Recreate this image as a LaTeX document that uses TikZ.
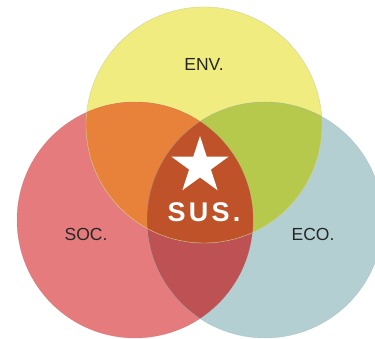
\documentclass[tikz,border=0pt]{standalone}
\usepackage{fontspec}
\setmainfont{Liberation Sans}
\usetikzlibrary{shapes.geometric}
\definecolor{cyel}{HTML}{F0EC80}
\definecolor{cred}{HTML}{E67B7E}
\definecolor{cteal}{HTML}{B4CFD2}
\definecolor{corange}{HTML}{E8823A}
\definecolor{cgreen}{HTML}{B6C94C}
\definecolor{credteal}{HTML}{BD5154}
\definecolor{ccenter}{HTML}{BF5229}
\tikzset{
  lbl/.style={font=\fontsize{17.5}{17.5}\selectfont, text=black!85},
  sus/.style={font=\fontsize{27}{27}\selectfont\bfseries\addfontfeature{LetterSpace=12}, text=white},
}
\begin{document}
\begin{tikzpicture}[x=1pt,y=-1pt]
\useasboundingbox (0,0) rectangle (375,339);
\def\R{118}
\coordinate (cy) at (204,125);
\coordinate (cr) at (135,220);
\coordinate (ct) at (265,220);
\begin{scope}
\clip (0,0) rectangle (375,339);
\fill[cyel] (cy) circle[radius=\R];
\fill[cred] (cr) circle[radius=\R];
\fill[cteal] (ct) circle[radius=\R];
\begin{scope}
  \clip (cy) circle[radius=\R];
  \fill[corange] (cr) circle[radius=\R];
  \fill[cgreen] (ct) circle[radius=\R];
\end{scope}
\begin{scope}
  \clip (cr) circle[radius=\R];
  \fill[credteal] (ct) circle[radius=\R];
  \clip (ct) circle[radius=\R];
  \fill[ccenter] (cy) circle[radius=\R];
\end{scope}
\draw[cyel!80!black!70, line width=0.4] (cy) circle[radius=\R];
\draw[cred!85!black, line width=0.4, opacity=0.5] (cr) circle[radius=\R];
\draw[cteal!85!black, line width=0.4, opacity=0.5] (ct) circle[radius=\R];
\end{scope}
\node[lbl] (env) at (204,64) {ENV.};
\node[lbl] (soc) at (86,234) {SOC.};
\node[lbl] (eco) at (313,234) {ECO.};
\node[star, star points=5, star point ratio=2.618, fill=white, minimum size=60, inner sep=0] (star) at (200,166) {};
\node[sus] (susl) at (204,212) {SUS.};
\end{tikzpicture}
\end{document}
